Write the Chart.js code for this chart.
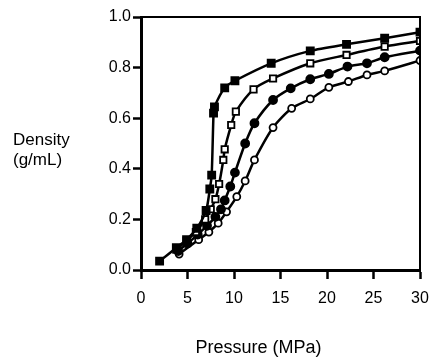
<!DOCTYPE html>
<html>
<head>
<meta charset="utf-8">
<script src="https://cdn.jsdelivr.net/npm/chart.js@4.4.1/dist/chart.umd.min.js"></script>
<style>
  html, body { margin: 0; padding: 0; background: #fff; }
  #wrap { width: 433px; height: 359px; }
</style>
</head>
<body>
<div id="wrap"><canvas id="densityChart"></canvas></div>
<script>
// Pressure (MPa) and density (g/mL) for the four isotherms
const filledSquareX = [2.0, 3.8, 4.9, 6.0, 7.0, 7.4, 7.6, 7.8, 7.9, 9.0, 10.1, 14.0, 18.2, 22.1, 26.2, 30.0];
const filledSquareY = [0.035, 0.088, 0.12, 0.165, 0.235, 0.32, 0.375, 0.62, 0.645, 0.72, 0.748, 0.817, 0.866, 0.892, 0.916, 0.94];

const openSquareX = [3.8, 4.9, 5.9, 6.9, 7.5, 8.0, 8.4, 8.85, 9.0, 9.7, 10.2, 12.1, 14.2, 18.2, 22.1, 26.2, 30.0];
const openSquareY = [0.08, 0.115, 0.15, 0.2, 0.24, 0.28, 0.34, 0.435, 0.477, 0.573, 0.626, 0.714, 0.757, 0.817, 0.85, 0.883, 0.905];

const filledCircleX = [4.0, 5.0, 6.1, 7.1, 8.0, 8.6, 9.0, 9.6, 10.1, 11.2, 12.2, 14.2, 16.1, 18.2, 20.2, 22.2, 24.3, 26.2, 30.0];
const filledCircleY = [0.075, 0.105, 0.14, 0.175, 0.21, 0.24, 0.275, 0.33, 0.385, 0.5, 0.58, 0.672, 0.718, 0.754, 0.775, 0.804, 0.817, 0.841, 0.867];

const openCircleX = [4.1, 6.2, 7.3, 8.3, 9.2, 10.3, 11.2, 12.2, 14.2, 16.2, 18.2, 20.2, 22.3, 24.3, 26.2, 30.0];
const openCircleY = [0.063, 0.12, 0.15, 0.185, 0.23, 0.29, 0.352, 0.435, 0.563, 0.639, 0.676, 0.722, 0.745, 0.771, 0.787, 0.828];

const xTicks = [0, 5, 10, 15, 20, 25, 30];
const yTicks = [0.0, 0.2, 0.4, 0.6, 0.8, 1.0];

const toPoints = (xs, ys) => xs.map((x, i) => ({ x: x, y: ys[i] }));

function series(xs, ys, shape, filled, radius) {
  return {
    data: toPoints(xs, ys),
    showLine: true,
    tension: 0.25,
    borderColor: '#000',
    borderWidth: 2.5,
    pointStyle: shape,
    pointRadius: radius,
    pointBorderWidth: 1.8,
    pointBorderColor: '#000',
    pointBackgroundColor: filled ? '#000' : '#fff'
  };
}

const fontFamily = '"Liberation Sans", Arial, sans-serif';

// axis titles (y title is horizontal) and the thin top/right frame
const extras = {
  id: 'extras',
  afterDraw(chart) {
    const { ctx, chartArea } = chart;
    ctx.save();
    ctx.strokeStyle = '#000';
    ctx.lineWidth = 2;
    ctx.beginPath();
    ctx.moveTo(chartArea.left, chartArea.top);
    ctx.lineTo(chartArea.right, chartArea.top);
    ctx.lineTo(chartArea.right, chartArea.bottom);
    ctx.stroke();

    ctx.fillStyle = '#000';
    ctx.font = '17px ' + fontFamily;
    ctx.textAlign = 'left';
    ctx.textBaseline = 'middle';
    const mid = (chartArea.top + chartArea.bottom) / 2;
    ctx.fillText('Density', 13, mid - 3);
    ctx.fillText('(g/mL)', 13, mid + 17);

    ctx.font = '18px ' + fontFamily;
    ctx.textAlign = 'center';
    ctx.fillText('Pressure (MPa)', (chartArea.left + chartArea.right) / 2 - 22, chart.height - 11);
    ctx.restore();
  }
};

const tickFont = { family: fontFamily, size: 16 };

new Chart(document.getElementById('densityChart'), {
  type: 'scatter',
  data: {
    datasets: [
      series(filledSquareX, filledSquareY, 'rect', true, 5),
      series(openSquareX, openSquareY, 'rect', false, 4.5),
      series(filledCircleX, filledCircleY, 'circle', true, 4),
      series(openCircleX, openCircleY, 'circle', false, 3.5)
    ]
  },
  options: {
    responsive: true,
    maintainAspectRatio: false,
    animation: false,
    layout: { padding: { left: 0, right: 13, top: 17, bottom: 0 } },
    plugins: { legend: { display: false }, tooltip: { enabled: false } },
    scales: {
      x: {
        type: 'linear',
        min: 0,
        max: 30,
        afterFit(scale) {
          scale.height = 89;
          scale.paddingLeft = 0;
          scale.paddingRight = 0;
        },
        afterBuildTicks(scale) { scale.ticks = xTicks.map(v => ({ value: v })); },
        border: { color: '#000', width: 3 },
        grid: { drawOnChartArea: false, color: '#000', tickLength: 9, tickWidth: 2.5 },
        ticks: { color: '#000', font: tickFont, padding: 10, maxRotation: 0 }
      },
      y: {
        type: 'linear',
        min: 0,
        max: 1,
        afterFit(scale) {
          scale.width = 141;
          scale.paddingTop = 0;
          scale.paddingBottom = 0;
        },
        afterBuildTicks(scale) { scale.ticks = yTicks.map(v => ({ value: v })); },
        border: { color: '#000', width: 3 },
        grid: { drawOnChartArea: false, color: '#000', tickLength: 8, tickWidth: 2.5 },
        ticks: {
          color: '#000',
          font: tickFont,
          padding: 2,
          callback: v => v.toFixed(1)
        }
      }
    }
  },
  plugins: [extras]
});
</script>
</body>
</html>
